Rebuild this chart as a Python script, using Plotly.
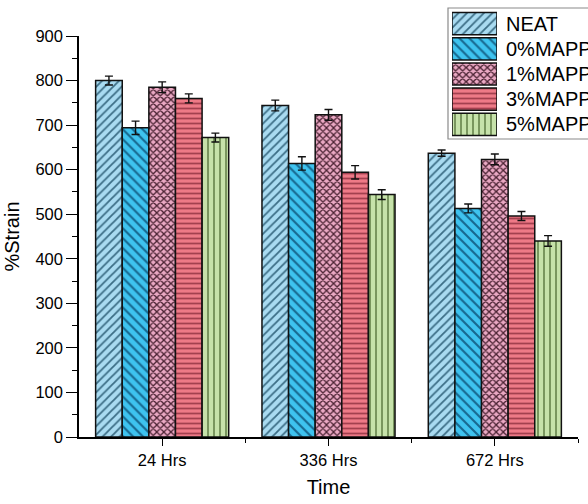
import plotly.graph_objects as go

# Data
times = ["24 Hrs", "336 Hrs", "672 Hrs"]
series = ["NEAT", "0%MAPP", "1%MAPP", "3%MAPP", "5%MAPP"]
neat = [800, 744, 637]
mapp0 = [694, 614, 513]
mapp1 = [785, 723, 623]
mapp3 = [760, 594, 496]
mapp5 = [672, 544, 440]
neat_err = [10, 12, 7]
mapp0_err = [15, 15, 10]
mapp1_err = [12, 12, 12]
mapp3_err = [10, 15, 10]
mapp5_err = [10, 11, 12]

values = [neat, mapp0, mapp1, mapp3, mapp5]
errors = [neat_err, mapp0_err, mapp1_err, mapp3_err, mapp5_err]

# Styles per series
fills = ["#a9dbf1", "#3ec3ef", "#eaa8c3", "#ee7a87", "#c6e2aa"]
lines = ["#3c6e86", "#17688f", "#4a2232", "#a3404f", "#5f7d45"]
shapes = ["/", "\\", "x", "-", "|"]
psizes = [6, 7, 5, 5, 6]
psolid = [0.3, 0.3, 0.45, 0.35, 0.25]

W, H = 588, 504
FONT = "Liberation Sans, Arial, sans-serif"

# plot area in pixels
px_l, px_r, px_t, px_b = 79, 578, 36, 437

def fx(px):
    return px / W

def fy(py):
    return 1 - py / H

def marker_style(i):
    return dict(
        color=fills[i],
        line=dict(color="#111111", width=1.5),
        pattern=dict(shape=shapes[i], fgcolor=lines[i], bgcolor=fills[i],
                     size=psizes[i], solidity=psolid[i], fillmode="replace"),
    )

xpos = list(range(len(times)))

fig = go.Figure()
for i, name in enumerate(series):
    fig.add_trace(go.Bar(
        x=xpos, y=values[i], name=name,
        marker=marker_style(i),
        error_y=dict(type="data", array=errors[i], color="#111111",
                     thickness=1.4, width=4),
        showlegend=False,
        xaxis="x", yaxis="y",
    ))

# legend swatches: one horizontal bar per series on a small overlay axis
for i, name in enumerate(series):
    fig.add_trace(go.Bar(
        x=[1], y=[i], orientation="h", name=name,
        marker=marker_style(i),
        width=0.88,
        showlegend=False, hoverinfo="skip",
        xaxis="x2", yaxis="y2",
    ))

leg_top, leg_bot = 11, 137
row_h = (leg_bot - leg_top) / len(series)
annotations = []
for i, name in enumerate(series):
    cy = leg_top + row_h * (i + 0.5)
    annotations.append(dict(
        x=fx(504), y=fy(cy), xref="paper", yref="paper",
        text=name, showarrow=False, xanchor="left", yanchor="middle",
        font=dict(family=FONT, size=20, color="#000000"),
    ))

fig.update_layout(
    width=W, height=H,
    margin=dict(l=0, r=0, t=0, b=0),
    paper_bgcolor="white", plot_bgcolor="white",
    barmode="group", bargap=0.2, bargroupgap=0,
    font=dict(family=FONT, size=16, color="#000000"),
    xaxis=dict(
        domain=[fx(px_l), fx(px_r)], anchor="y",
        range=[-0.5, 2.5],
        tickvals=xpos, ticktext=times,
        ticks="outside", ticklen=7, tickwidth=1.3, tickcolor="#000000",
        minor=dict(tickvals=[0.5, 1.5, 2.5], ticks="outside", ticklen=4,
                   tickwidth=1.3, tickcolor="#000000"),
        showline=True, linecolor="#000000", linewidth=1.5,
        showgrid=False, zeroline=False,
        tickfont=dict(size=16.5),
        title=dict(text="Time", font=dict(size=20), standoff=12),
        automargin=False,
    ),
    yaxis=dict(
        domain=[fy(px_b), fy(px_t)], anchor="x",
        range=[0, 900], dtick=100,
        ticks="outside", ticklen=11, tickwidth=1.3, tickcolor="#000000",
        minor=dict(dtick=50, ticks="outside", ticklen=5, tickwidth=1.3,
                   tickcolor="#000000"),
        showline=True, linecolor="#000000", linewidth=1.5,
        showgrid=False, zeroline=False,
        tickfont=dict(size=16.5),
        title=dict(text="%Strain", font=dict(size=20), standoff=10),
        automargin=False,
    ),
    xaxis2=dict(
        domain=[fx(452), fx(497)], anchor="y2", range=[0, 1],
        visible=False, fixedrange=True,
    ),
    yaxis2=dict(
        domain=[fy(leg_bot), fy(leg_top)], anchor="x2",
        range=[len(series) - 0.5, -0.5],
        visible=False, fixedrange=True,
    ),
    annotations=annotations,
    shapes=[dict(
        type="rect", xref="paper", yref="paper",
        x0=fx(448), x1=fx(620), y0=fy(139), y1=fy(8),
        line=dict(color="#8a8a8a", width=1.2), fillcolor="rgba(0,0,0,0)",
        layer="below",
    )],
)

fig.write_html("out.html")
